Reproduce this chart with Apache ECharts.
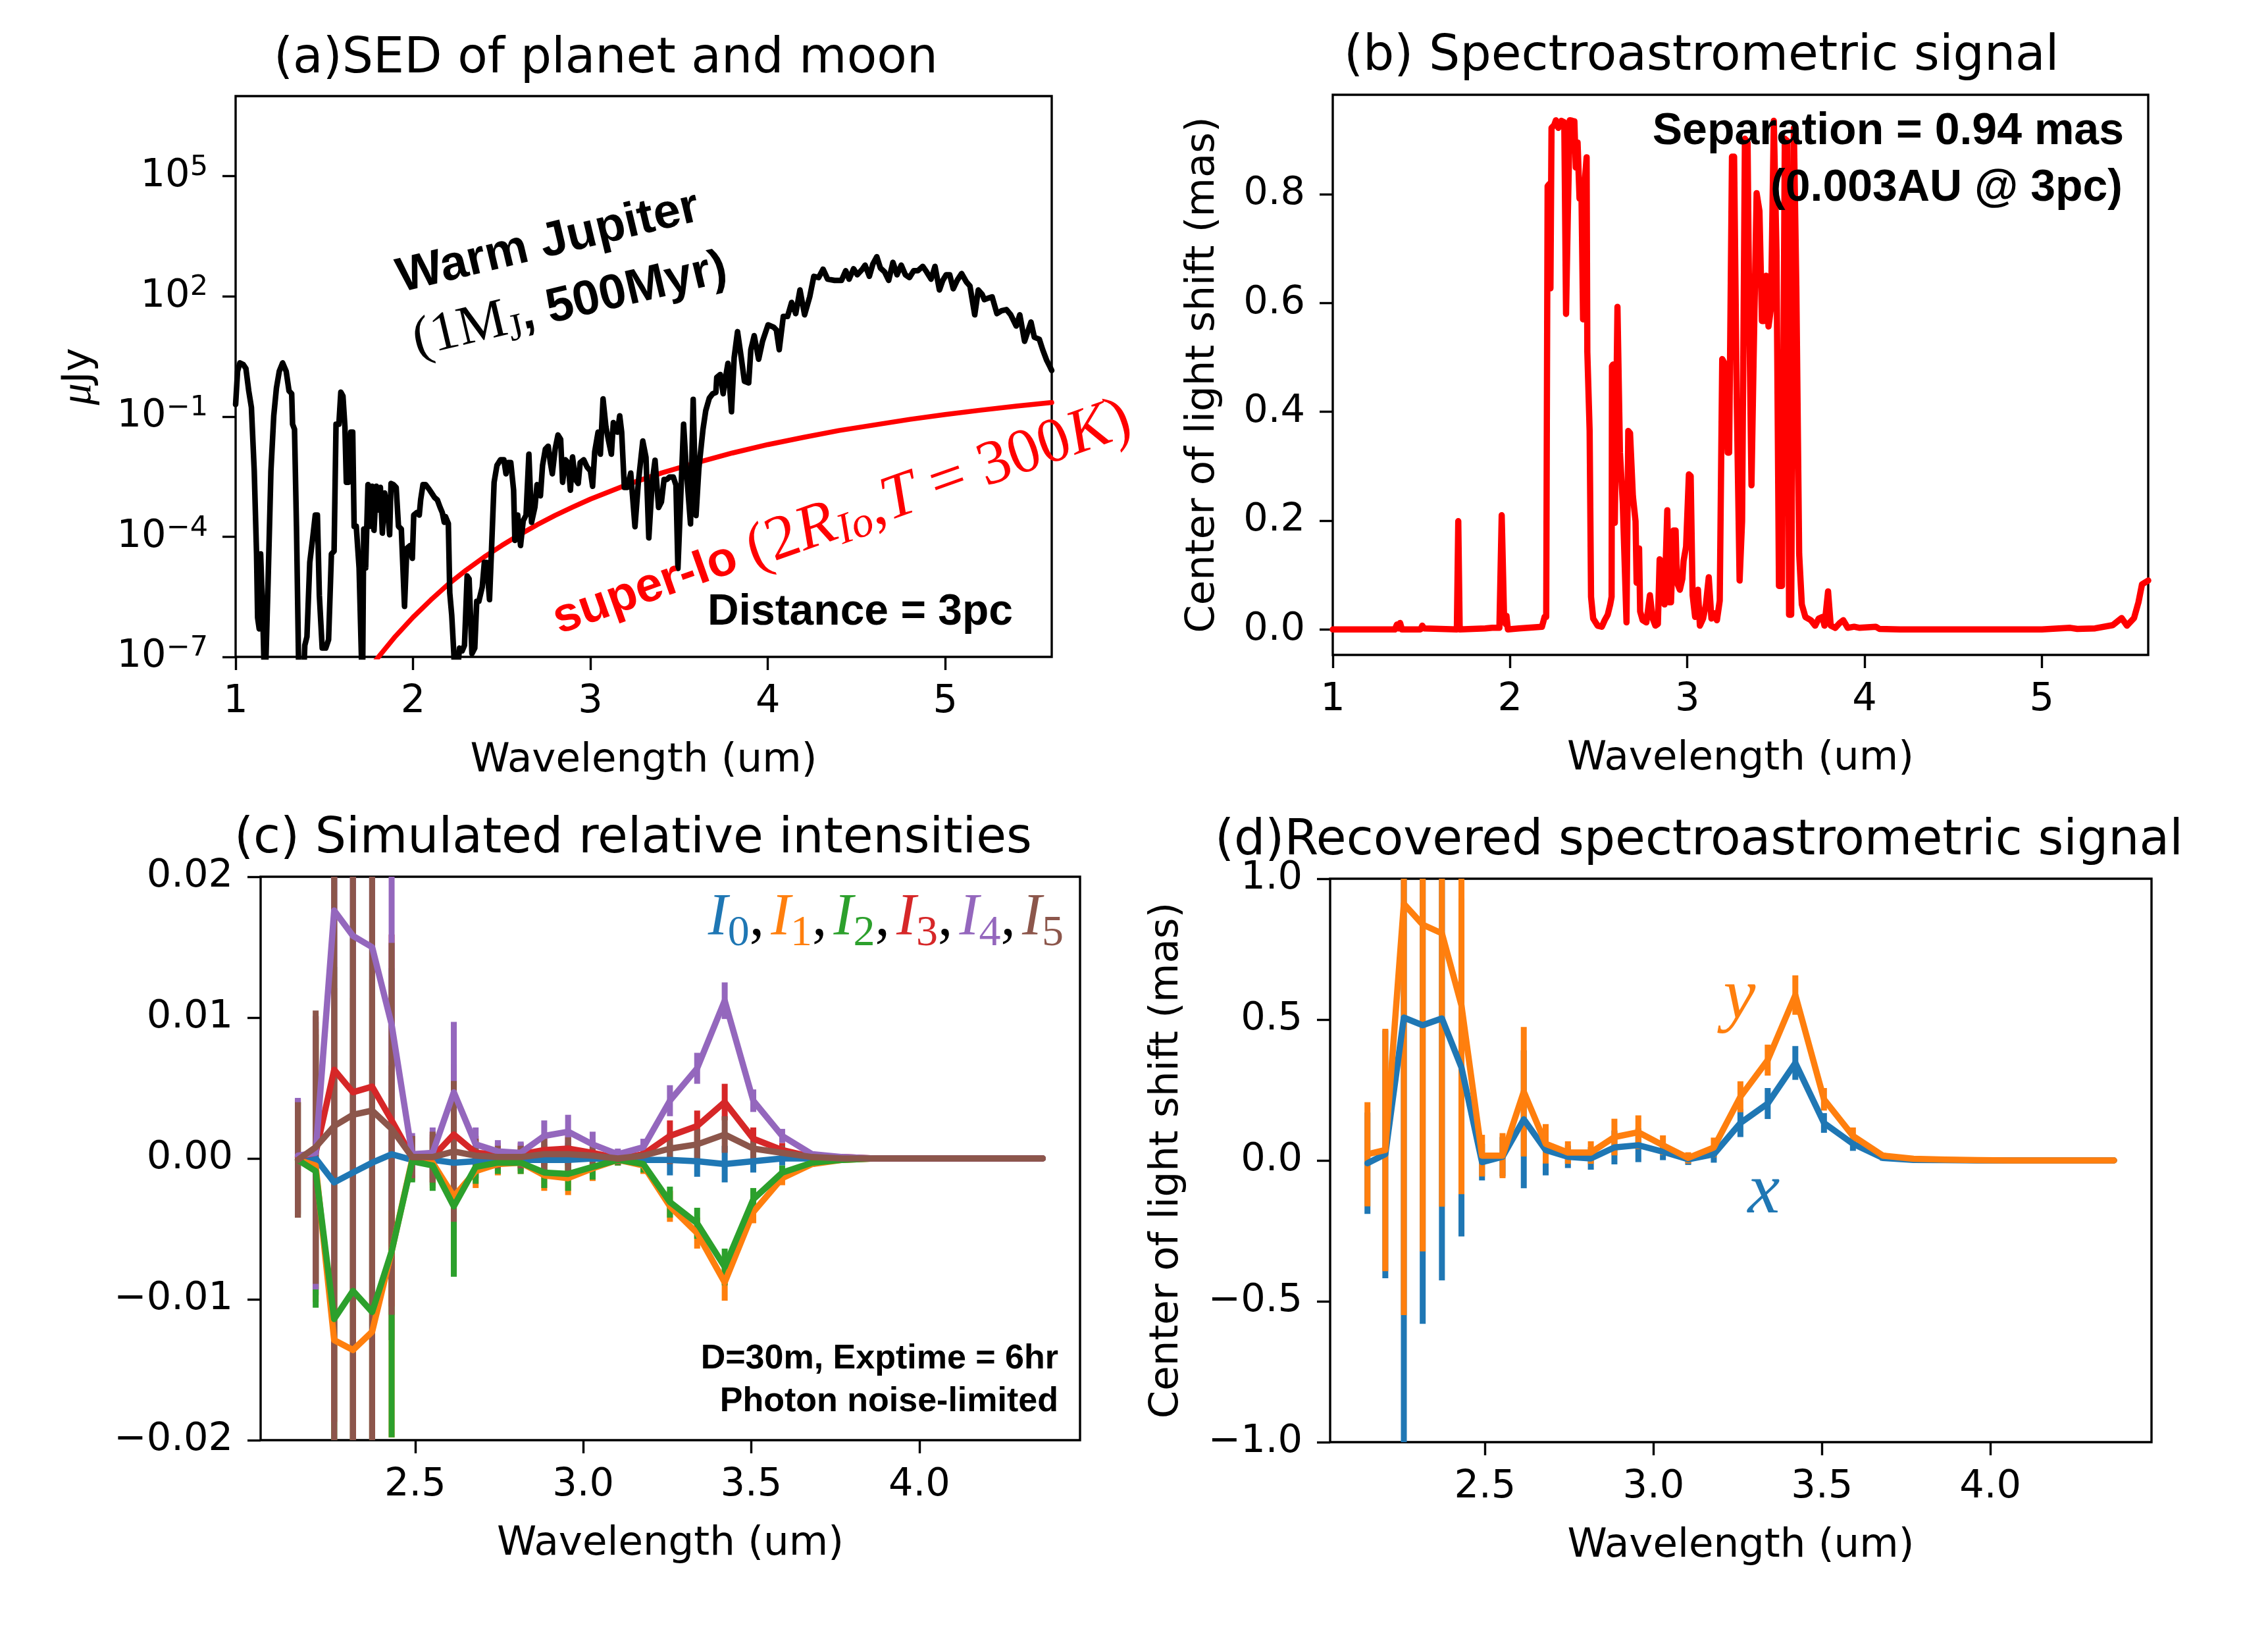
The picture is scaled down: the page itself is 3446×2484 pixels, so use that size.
<!DOCTYPE html>
<html>
<head>
<meta charset="utf-8">
<title>SED and spectroastrometric signal</title>
<script src="https://cdn.jsdelivr.net/npm/echarts@6.0.0/dist/echarts.min.js"></script>
<style>html,body{margin:0;padding:0;background:#fff;}</style>
</head>
<body>
<div id="main" style="width:3446px;height:2484px;"></div>
<script>
// (a) warm Jupiter SED, log10 of flux in uJy
var jupWave = [1.000,1.011,1.024,1.043,1.058,1.074,1.089,1.105,1.118,1.124,1.133,1.141,1.152,1.165,1.183,1.199,1.215,1.230,1.246,1.265,
  1.285,1.301,1.316,1.321,1.332,1.343,1.358,1.379,1.390,1.402,1.418,1.433,1.449,1.461,1.472,1.488,1.508,1.524,1.540,1.555,
  1.566,1.582,1.593,1.605,1.616,1.624,1.637,1.649,1.660,1.668,1.680,1.696,1.715,1.722,1.733,1.746,1.758,1.769,1.780,1.793,
  1.805,1.816,1.827,1.840,1.855,1.868,1.876,1.890,1.905,1.918,1.934,1.952,1.965,1.984,1.996,2.004,2.020,2.035,2.043,2.056,
  2.071,2.090,2.105,2.121,2.137,2.152,2.165,2.176,2.183,2.199,2.207,2.218,2.230,2.238,2.262,2.277,2.290,2.305,2.316,2.332,
  2.348,2.359,2.371,2.390,2.402,2.415,2.431,2.442,2.457,2.473,2.493,2.512,2.524,2.535,2.551,2.567,2.574,2.590,2.606,2.621,
  2.637,2.653,2.668,2.687,2.699,2.718,2.730,2.746,2.762,2.774,2.785,2.801,2.817,2.832,2.843,2.859,2.874,2.887,2.899,2.915,
  2.931,2.942,2.962,2.981,3.000,3.012,3.024,3.043,3.056,3.071,3.087,3.102,3.118,3.129,3.140,3.152,3.165,3.176,3.191,3.207,
  3.227,3.251,3.270,3.295,3.313,3.329,3.348,3.364,3.384,3.400,3.415,3.431,3.446,3.467,3.482,3.493,3.509,3.525,3.540,3.564,
  3.579,3.595,3.611,3.634,3.650,3.670,3.689,3.707,3.712,3.732,3.748,3.759,3.775,3.795,3.810,3.829,3.850,3.868,3.892,3.904,
  3.923,3.948,3.970,4.001,4.033,4.048,4.064,4.087,4.111,4.134,4.157,4.181,4.207,4.236,4.259,4.286,4.311,4.337,4.376,4.415,
  4.439,4.458,4.483,4.504,4.533,4.548,4.572,4.592,4.614,4.634,4.658,4.681,4.705,4.728,4.752,4.775,4.798,4.822,4.845,4.873,
  4.895,4.920,4.942,4.967,4.986,5.005,5.025,5.045,5.067,5.092,5.119,5.139,5.166,5.186,5.208,5.220,5.239,5.264,5.291,5.317,
  5.345,5.369,5.400,5.420,5.447,5.483,5.502,5.530,5.549,5.572,5.588,5.600];
var jupLogFlux = [-0.70,0.13,0.34,0.30,0.20,-0.36,-0.77,-2.36,-4.43,-6.02,-6.30,-4.43,-5.81,-8,-5.12,-2.36,-0.98,-0.29,0.13,0.34,
  0.13,-0.36,-0.43,-1.19,-1.32,-3.74,-8,-8,-6.71,-6.50,-4.64,-4.09,-3.46,-3.46,-5.47,-6.78,-6.78,-6.57,-4.43,-4.36,
  -1.19,-1.19,-0.39,-0.49,-1.25,-2.64,-2.64,-1.39,-1.39,-3.74,-3.74,-4.78,-8,-3.81,-4.78,-2.70,-3.74,-2.74,-3.84,-2.74,
  -3.33,-2.77,-3.91,-2.91,-3.26,-3.95,-2.67,-2.70,-2.77,-3.74,-3.81,-5.74,-4.29,-4.22,-4.54,-3.46,-3.40,-3.46,-3.08,-2.70,
  -2.70,-2.81,-2.91,-3.02,-3.08,-3.26,-3.40,-3.64,-3.50,-3.67,-5.40,-5.95,-6.92,-8,-6.78,-6.85,-6.71,-4.98,-5.05,-6.92,
  -6.78,-5.61,-5.61,-5.26,-4.64,-4.64,-5.57,-4.36,-2.64,-2.22,-2.08,-2.08,-2.43,-2.15,-2.15,-2.84,-4.09,-3.46,-4.22,-3.60,
  -3.46,-1.94,-3.64,-3.26,-2.70,-2.98,-2.22,-1.81,-1.74,-2.15,-2.43,-1.81,-1.46,-1.57,-2.64,-2.08,-2.15,-2.84,-2.01,-2.57,
  -2.67,-2.15,-2.08,-2.26,-2.36,-2.74,-1.88,-1.39,-1.94,-0.56,-1.25,-1.60,-1.94,-1.15,-1.36,-1.39,-0.98,-1.39,-2.77,-2.77,
  -2.41,-3.75,-2.64,-1.61,-2.02,-4.03,-2.64,-2.09,-3.27,-3.13,-2.57,-2.57,-2.51,-2.51,-2.71,-4.79,-2.99,-1.19,-2.30,-3.68,
  -0.57,-3.47,-2.30,-1.33,-0.85,-0.54,-0.43,-0.40,-0.02,0.05,-0.43,-0.09,0.33,-0.88,0.47,1.12,0.47,-0.12,-0.16,0.67,
  1.02,0.43,0.88,1.29,1.23,1.16,0.67,1.50,1.50,1.85,1.57,2.16,1.54,1.99,2.50,2.47,2.68,2.43,2.40,2.40,
  2.64,2.43,2.69,2.54,2.68,2.78,2.50,2.81,2.99,2.71,2.61,2.40,2.85,2.54,2.78,2.54,2.47,2.64,2.64,2.75,
  2.61,2.43,2.75,2.16,2.40,2.54,2.54,2.19,2.40,2.57,2.36,2.26,1.54,2.16,2.05,1.92,1.95,1.99,1.57,1.64,
  1.67,1.54,1.26,1.54,0.88,1.36,0.98,0.93,0.67,0.40,0.26,0.15];

// (a) super-Io blackbody, log10 uJy
var ioWave = [1.75,1.8,1.9,2.0,2.1,2.2,2.3,2.4,2.5,2.6,2.7,2.8,2.9,3.0,3.2,3.4,3.6,3.8,4.0,4.2,4.4,4.6,4.8,5.0,5.2,5.4,5.6];
var ioLogFlux = [-7.32,-7.03,-6.49,-6.01,-5.58,-5.18,-4.83,-4.51,-4.22,-3.95,-3.70,-3.47,-3.26,-3.06,-2.71,-2.41,-2.15,-1.91,-1.70,-1.52,-1.35,-1.21,-1.07,-0.95,-0.84,-0.74,-0.65];
var sedTicks = [-7, -4, -1, 2, 5];

// (b) center of light shift (mas)
var bWave = [1.000,1.350,1.362,1.372,1.380,1.390,1.495,1.505,1.515,1.700,1.708,1.716,1.860,1.900,1.940,1.953,1.966,1.975,1.980,1.988,
  2.050,2.180,2.195,2.204,2.212,2.222,2.228,2.234,2.249,2.259,2.273,2.290,2.306,2.316,2.326,2.337,2.351,2.363,2.371,2.381,
  2.392,2.402,2.412,2.422,2.432,2.436,2.449,2.457,2.469,2.494,2.518,2.534,2.551,2.565,2.573,2.575,2.581,2.591,2.606,2.620,
  2.636,2.657,2.667,2.677,2.693,2.708,2.714,2.728,2.734,2.748,2.769,2.789,2.805,2.820,2.834,2.844,2.856,2.871,2.887,2.897,
  2.908,2.922,2.934,2.942,2.958,2.972,2.979,2.993,3.009,3.019,3.030,3.044,3.060,3.071,3.089,3.105,3.121,3.136,3.150,3.167,
  3.183,3.197,3.207,3.228,3.236,3.252,3.264,3.279,3.295,3.309,3.325,3.340,3.350,3.362,3.374,3.391,3.407,3.421,3.431,3.444,
  3.458,3.472,3.488,3.503,3.517,3.534,3.550,3.564,3.574,3.586,3.601,3.615,3.631,3.646,3.666,3.697,3.721,3.741,3.762,3.774,
  3.794,3.809,3.835,3.860,3.880,3.905,3.941,3.972,4.063,4.084,4.200,5.000,5.160,5.200,5.300,5.400,5.450,5.480,5.520,5.545,
  5.565,5.600];
var bShift = [0,0,0.009,0.002,0.012,0,0,0.007,0.002,0,0.199,0,0.002,0.003,0.003,0.210,0.027,0.010,0.025,0,
  0.002,0.005,0.023,0.023,0.815,0.819,0.627,0.922,0.927,0.936,0.922,0.935,0.932,0.580,0.762,0.936,0.935,0.934,0.849,0.895,
  0.792,0.825,0.570,0.825,0.868,0.510,0.365,0.060,0.020,0.007,0.005,0.017,0.027,0.046,0.060,0.484,0.487,0.196,0.593,0.325,
  0.232,0.013,0.365,0.361,0.245,0.199,0.086,0.149,0.033,0.017,0.013,0.063,0.020,0.007,0.010,0.129,0.123,0.046,0.219,0.050,
  0.050,0.182,0.182,0.086,0.073,0.093,0.126,0.152,0.285,0.282,0.063,0.023,0.073,0.007,0.020,0.046,0.096,0.020,0.030,0.017,
  0.053,0.497,0.491,0.325,0.325,0.869,0.869,0.418,0.090,0.199,0.902,0.895,0.564,0.265,0.497,0.802,0.769,0.567,0.567,0.650,
  0.557,0.590,0.935,0.696,0.080,0.080,0.902,0.898,0.027,0.027,0.922,0.630,0.139,0.046,0.023,0.017,0.007,0.020,0.023,0.007,
  0.070,0.007,0.003,0.012,0.017,0.003,0.005,0.003,0.005,0.001,0,0,0.003,0.001,0.002,0.008,0.021,0.007,0.021,0.050,
  0.083,0.090];

// (c) and (d) binned wavelengths
var cWave = [2.151,2.204,2.259,2.315,2.372,2.430,2.491,2.552,2.615,2.680,2.746,2.814,2.884,2.955,3.028,
  3.103,3.179,3.258,3.339,3.421,3.506,3.592,3.681,3.772,3.865,3.961,4.059,4.159,4.262,4.367];
var I0 = [-0.0001,0.0000,-0.0017,-0.0010,-0.0003,0.0003,-0.0001,-0.0001,-0.0003,-0.0002,-0.0001,-0.0001,-0.0001,-0.0001,0.0000,
  -0.0001,-0.0001,-0.0001,-0.0002,-0.0004,-0.0002,0.0000,0.0000,0.0000,0,0,0,0,0,0];
var I1 = [-0.0001,-0.0005,-0.0129,-0.0136,-0.0123,-0.0066,-0.0001,-0.0003,-0.0027,-0.0009,-0.0004,-0.0003,-0.0012,-0.0014,-0.0007,
  -0.0001,-0.0005,-0.0034,-0.0053,-0.0088,-0.0038,-0.0014,-0.0004,-0.0001,0,0,0,0,0,0];
var I2 = [-0.0001,-0.0009,-0.0114,-0.0094,-0.0109,-0.0066,-0.0002,-0.0005,-0.0034,-0.0006,-0.0003,-0.0003,-0.0010,-0.0011,-0.0006,
  -0.0001,-0.0004,-0.0031,-0.0046,-0.0077,-0.0029,-0.0010,-0.0003,-0.0001,0,0,0,0,0,0];
var I3 = [0.0001,0.0004,0.0063,0.0047,0.0051,0.0027,0.0001,0.0001,0.0017,0.0004,0.0003,0.0003,0.0006,0.0007,0.0004,
  0.0000,0.0003,0.0016,0.0023,0.0040,0.0014,0.0006,0.0001,0.0001,0,0,0,0,0,0];
var I4 = [0.0002,0.0004,0.0176,0.0158,0.0150,0.0095,0.0003,0.0004,0.0047,0.0010,0.0005,0.0004,0.0016,0.0019,0.0010,
  0.0003,0.0008,0.0041,0.0064,0.0112,0.0041,0.0016,0.0003,0.0001,0,0,0,0,0,0];
var I5 = [-0.0001,0.0008,0.0023,0.0031,0.0034,0.0021,0.0001,0.0001,0.0005,0.0002,0.0001,0.0001,0.0003,0.0003,0.0002,
  0.0000,0.0002,0.0007,0.0010,0.0017,0.0007,0.0004,0.0001,0.0000,0,0,0,0,0,0];
var cErr = [0.0041,0.0097,0.025,0.025,0.025,0.0132,0.0015,0.0018,0.0050,0.0012,0.0008,0.0008,0.0011,0.0012,0.0009,
  0.0004,0.0006,0.0011,0.0011,0.0013,0.0008,0.0005,0.0002,0.0001,0.0001,0.0001,0.0001,0.0001,0.0001,0.0001];

var dX = [-0.010,0.022,0.507,0.480,0.504,0.330,-0.006,0.013,0.146,0.037,0.013,0.007,0.046,0.054,0.031,
  0.004,0.022,0.133,0.202,0.346,0.133,0.059,0.009,0.002,0.001,0,0,0,0,0];
var dY = [0.022,0.037,0.911,0.837,0.806,0.550,0.017,0.017,0.244,0.059,0.028,0.028,0.083,0.100,0.054,
  0.009,0.046,0.226,0.356,0.587,0.217,0.087,0.017,0.006,0.003,0.001,0,0,0,0];
var dXErr = [0.18,0.44,1.60,1.06,0.93,0.60,0.065,0.07,0.245,0.09,0.04,0.04,0.06,0.06,0.03,
  0.02,0.03,0.05,0.055,0.06,0.035,0.025,0.01,0.005,0.002,0.001,0.001,0.001,0.001,0.001];
var dYErr = [0.185,0.43,1.46,1.16,0.97,0.67,0.074,0.08,0.23,0.07,0.04,0.04,0.065,0.06,0.035,
  0.02,0.035,0.055,0.055,0.07,0.04,0.03,0.01,0.005,0.002,0.001,0.001,0.001,0.001,0.001];

var SANS = 'DejaVu Sans';
var BOLD = 'Liberation Sans';
var SERIF = 'Liberation Serif';
var tab = ['#1f77b4', '#ff7f0e', '#2ca02c', '#d62728', '#9467bd', '#8c564b'];

var myChart = echarts.init(document.getElementById('main'));

function pairs(xs, ys) { return xs.map(function (x, i) { return [x, ys[i]]; }); }
function triples(xs, ys, es) { return xs.map(function (x, i) { return [x, ys[i], es[i]]; }); }
function minus(s) { return s.replace('-', '\u2212'); }

function xAxisOf(gi, min, max, ticks, digits) {
    return {
        type: 'value', gridIndex: gi, min: min, max: max,
        name: 'Wavelength (um)', nameLocation: 'middle', nameGap: 128,
        nameTextStyle: { fontFamily: SANS, fontSize: 61, color: '#000' },
        axisLine: { show: false, onZero: false },
        axisTick: { show: true, length: 20, customValues: ticks, lineStyle: { color: '#000', width: 3.4 } },
        axisLabel: { margin: 39, customValues: ticks, fontFamily: SANS, fontSize: 59, color: '#000',
            formatter: function (v) { return v.toFixed(digits); } },
        splitLine: { show: false }
    };
}
function yAxisOf(gi, min, max, ticks, formatter, name, gap, rich) {
    return {
        type: 'value', gridIndex: gi, min: min, max: max,
        name: name, nameLocation: 'middle', nameGap: gap,
        nameTextStyle: { fontFamily: SANS, fontSize: 61, color: '#000', rich: rich || {} },
        axisLine: { show: false, onZero: false },
        axisTick: { show: true, length: 20, customValues: ticks, lineStyle: { color: '#000', width: 3.4 } },
        axisLabel: { margin: 42, customValues: ticks, fontFamily: SANS, fontSize: 59, color: '#000', formatter: formatter,
            rich: { s: { fontFamily: SANS, fontSize: 43, color: '#000', padding: [0, 0, 26, 0] } } },
        splitLine: { show: false }
    };
}
function lineOf(ai, data, color, width) {
    return { type: 'line', xAxisIndex: ai, yAxisIndex: ai, data: data, showSymbol: false, symbol: 'none',
        clip: true, silent: true, lineStyle: { color: color, width: width, join: 'round', cap: 'round' },
        itemStyle: { color: color } };
}
function errOf(ai, data, color, lo, hi) {
    return {
        type: 'custom', xAxisIndex: ai, yAxisIndex: ai, data: data, silent: true, clip: true,
        encode: { x: 0, y: 1 },
        renderItem: function (params, api) {
            var x = api.value(0), y = api.value(1), e = api.value(2);
            var p1 = api.coord([x, Math.max(y - e, lo)]);
            var p2 = api.coord([x, Math.min(y + e, hi)]);
            return { type: 'line', shape: { x1: p1[0], y1: p1[1], x2: p2[0], y2: p2[1] },
                style: { stroke: color, lineWidth: 9 } };
        }
    };
}

var gridBase = { show: true, borderColor: '#000', borderWidth: 3.4, backgroundColor: 'transparent',
    containLabel: false, outerBoundsMode: 'none' };

var series = [];
series.push(lineOf(0, pairs(ioWave, ioLogFlux), '#ff0000', 7.5));
series.push(lineOf(0, pairs(jupWave, jupLogFlux), '#000000', 8.5));
series.push(lineOf(1, pairs(bWave, bShift), '#ff0000', 9.5));
[I0, I1, I2, I3, I4, I5].forEach(function (arr, k) {
    series.push(lineOf(2, pairs(cWave, arr), tab[k], 9.5));
    series.push(errOf(2, triples(cWave, arr, cErr), tab[k], -0.02, 0.02));
});
series.push(lineOf(3, pairs(cWave, dX), tab[0], 9.5));
series.push(errOf(3, triples(cWave, dX, dXErr), tab[0], -1, 1));
series.push(lineOf(3, pairs(cWave, dY), tab[1], 9.5));
series.push(errOf(3, triples(cWave, dY, dYErr), tab[1], -1, 1));

function txt(x, y, text, size, opts) {
    var o = opts || {};
    return {
        type: 'text', x: x, y: y, rotation: o.rot || 0, silent: true, z: 100,
        style: {
            text: text, fill: o.fill || '#000', fontFamily: o.family || SANS, fontSize: size,
            fontWeight: o.weight || 'normal', fontStyle: o.style || 'normal',
            align: o.align || 'left', verticalAlign: 'middle', rich: o.rich || {}
        }
    };
}
var deg = Math.PI / 180;
var legendRich = { c: { fontFamily: SERIF, fontSize: 90, fill: '#000', padding: [0, 10, 0, 0] } };
var legendText = '';
tab.forEach(function (col, k) {
    legendRich['i' + k] = { fontFamily: SERIF, fontStyle: 'italic', fontSize: 90, fill: col };
    legendRich['s' + k] = { fontFamily: SERIF, fontSize: 66, fill: col, padding: [46, 0, 0, 0] };
    legendText += '{i' + k + '|I}{s' + k + '|' + k + '}' + (k < 5 ? '{c|,}' : '');
});
var red = '#ff0000';

var graphics = [
    txt(416, 91, '(a)SED of planet and moon', 74.5),
    txt(2042, 87, '(b) Spectroastrometric signal', 74.5),
    txt(356, 1276, '(c) Simulated relative intensities', 74.5),
    txt(1846, 1279, '(d)Recovered spectroastrometric signal', 74.5),
    txt(833, 369, 'Warm Jupiter', 74, { family: BOLD, weight: 'bold', align: 'center', rot: 13.5 * deg }),
    txt(866, 463, '{m|(1M}{s|J}{b|, 500Myr)}', 74, { align: 'center', rot: 13.3 * deg, rich: {
        m: { fontFamily: SERIF, fontSize: 84, fill: '#000' },
        s: { fontFamily: SERIF, fontSize: 58, fill: '#000', padding: [36, 0, 0, 0] },
        b: { fontFamily: BOLD, fontWeight: 'bold', fontSize: 74, fill: '#000' } } }),
    txt(843, 944, '{b|super-Io }{m|(2}{mi|R}{si|Io}{m|,}{mi|T}{m| = 300}{mi|K}{m|)}', 74, { rot: 19.5 * deg, fill: red, rich: {
        b: { fontFamily: BOLD, fontWeight: 'bold', fontSize: 74, fill: red },
        m: { fontFamily: SERIF, fontSize: 96, fill: red },
        mi: { fontFamily: SERIF, fontStyle: 'italic', fontSize: 96, fill: red },
        si: { fontFamily: SERIF, fontStyle: 'italic', fontSize: 66, fill: red, padding: [36, 0, 0, 0] } } }),
    txt(1539, 931, 'Distance = 3pc', 66, { family: BOLD, weight: 'bold', align: 'right' }),
    txt(3227, 200, 'Separation = 0.94 mas', 68, { family: BOLD, weight: 'bold', align: 'right' }),
    txt(3225, 286, '(0.003AU @ 3pc)', 68, { family: BOLD, weight: 'bold', align: 'right' }),
    txt(1608, 2065, 'D=30m, Exptime = 6hr', 52, { family: BOLD, weight: 'bold', align: 'right' }),
    txt(1608, 2130, 'Photon noise-limited', 52, { family: BOLD, weight: 'bold', align: 'right' }),
    txt(1616, 1396, legendText, 90, { family: SERIF, align: 'right', rich: legendRich }),
    txt(2643, 1518, 'y', 110, { family: SERIF, style: 'italic', align: 'center', fill: tab[1] }),
    txt(2680, 1813, 'x', 110, { family: SERIF, style: 'italic', align: 'center', fill: tab[0] })
];

var option = {
    animation: false,
    backgroundColor: '#ffffff',
    grid: [
        Object.assign({ left: 358, top: 146, width: 1240, height: 852 }, gridBase),
        Object.assign({ left: 2025, top: 144, width: 1239, height: 851 }, gridBase),
        Object.assign({ left: 396, top: 1332, width: 1245, height: 856 }, gridBase),
        Object.assign({ left: 2021, top: 1335, width: 1248, height: 856 }, gridBase)
    ],
    xAxis: [
        xAxisOf(0, 1, 5.6, [1, 2, 3, 4, 5], 0),
        xAxisOf(1, 1, 5.6, [1, 2, 3, 4, 5], 0),
        xAxisOf(2, 2.0402, 4.4782, [2.5, 3.0, 3.5, 4.0], 1),
        xAxisOf(3, 2.0402, 4.4782, [2.5, 3.0, 3.5, 4.0], 1)
    ],
    yAxis: [
        yAxisOf(0, -7, 7, sedTicks, function (v) { return '10{s|' + minus(String(v)) + '}'; },
            '{m|\u03bc}Jy', 205, { m: { fontFamily: SERIF, fontStyle: 'italic', fontSize: 66, color: '#000' } }),
        yAxisOf(1, -0.0468, 0.9828, [0, 0.2, 0.4, 0.6, 0.8], function (v) { return v.toFixed(1); },
            'Center of light shift (mas)', 166),
        yAxisOf(2, -0.02, 0.02, [-0.02, -0.01, 0, 0.01, 0.02], function (v) { return minus(v.toFixed(2)); },
            '', 10),
        yAxisOf(3, -1, 1, [-1, -0.5, 0, 0.5, 1], function (v) { return minus(v.toFixed(1)); },
            'Center of light shift (mas)', 217)
    ],
    series: series,
    graphic: graphics
};
myChart.setOption(option);
</script>
</body>
</html>
